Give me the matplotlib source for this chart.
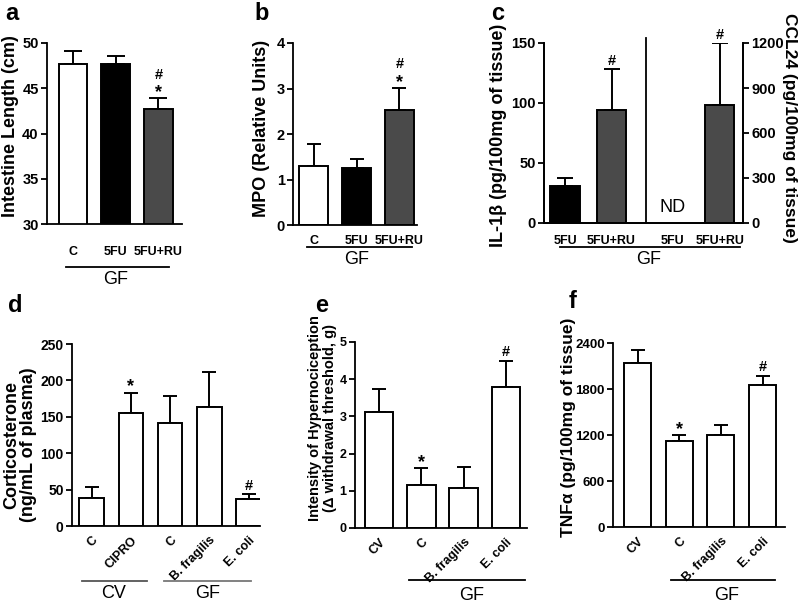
# -*- coding: utf-8 -*-
"""
Six-panel bar figure (a-f): intestine length, MPO, IL-1b / CCL24,
corticosterone, hypernociception and TNFa in GF / CV mice.
"""
import matplotlib
matplotlib.use("Agg")
import matplotlib.pyplot as plt
import matplotlib.transforms as mtransforms

plt.rcParams['font.family'] = ['Liberation Sans', 'DejaVu Sans']
plt.rcParams['font.weight'] = 'bold'
plt.rcParams['axes.linewidth'] = 1.3

W, H = 800, 602

# ---- data ----
a_labels = ['C', '5FU', '5FU+RU']
a_mean = [47.7, 47.7, 42.7]
a_err = [1.4, 0.9, 1.2]

b_labels = ['C', '5FU', '5FU+RU']
b_mean = [1.29, 1.25, 2.53]
b_err = [0.49, 0.20, 0.48]

c_labels = ['5FU', '5FU+RU', '5FU', '5FU+RU']
il1b_mean = [31, 94]
il1b_err = [6.5, 34]
ccl24_mean = [785]
ccl24_err = [415]

d_labels = ['C', 'CIPRO', 'C', 'B. fragilis', 'E. coli']
d_mean = [38, 155, 141, 164, 37]
d_err = [15, 28, 37, 48, 7]

e_labels = ['CV', 'C', 'B. fragilis', 'E. coli']
e_mean = [3.13, 1.15, 1.08, 3.78]
e_err = [0.62, 0.45, 0.55, 0.72]

f_labels = ['CV', 'C', 'B. fragilis', 'E. coli']
f_mean = [2135, 1126, 1204, 1848]
f_err = [174, 70, 126, 126]

GRAY = '#4a4a4a'

fig = plt.figure(figsize=(W / 100, H / 100), dpi=100)


def px_axes(x0, y0, x1, y1):
    return fig.add_axes([x0 / W, 1 - y1 / H, (x1 - x0) / W, (y1 - y0) / H])


def fy(y):
    return 1 - y / H


def style(ax, right=False, tsize=10.5):
    ax.spines['top'].set_visible(False)
    if not right:
        ax.spines['right'].set_visible(False)
    ax.tick_params(axis='y', direction='out', length=4, width=1.3,
                   labelsize=tsize, pad=2)
    ax.tick_params(axis='x', length=0)


def bars(ax, x, mean, err, colors, width, cap=6):
    ax.bar(x, mean, width=width, color=colors, edgecolor='black',
           linewidth=1.4, zorder=2)
    ax.errorbar(x, mean, yerr=[[0] * len(err), err], fmt='none',
                ecolor='black', elinewidth=1.4, capsize=cap, capthick=1.4,
                zorder=1)


def sig(ax, x, top, syms):
    off = 1
    for s in syms:
        size = 13 if s == '*' else 10.5
        dy = -3 if s == '*' else 0
        ax.annotate(s, (x, top), xytext=(0, off + dy), textcoords='offset points',
                    ha='center', va='bottom', fontsize=size, fontweight='bold')
        off += 11


def ylab(ax, text, box, xr, yc, size=13, ls=1.0):
    x0, y0, x1, y1 = box
    ax.set_ylabel(text, fontsize=size, fontweight='bold', linespacing=ls)
    ax.yaxis.set_label_coords((xr - x0) / (x1 - x0), (y1 - yc) / (y1 - y0))


def group(ax, x0, x1, ypx, text, ytext, color='black', xt=None):
    tr = mtransforms.blended_transform_factory(ax.transData, fig.transFigure)
    ax.plot([x0, x1], [fy(ypx), fy(ypx)], color=color, lw=1.3,
            transform=tr, clip_on=False)
    if xt is None:
        xt = (x0 + x1) / 2
    ax.text(xt, fy(ytext), text, transform=tr, ha='center', va='center',
            fontsize=13, fontweight='normal')


# ---------------- panel a ----------------
box = (47, 43, 182, 224)
ax = px_axes(*box)
xa = [0, 1, 2]
bars(ax, xa, a_mean, a_err, ['white', 'black', GRAY], 0.66, cap=6.5)
ax.set_ylim(30, 50)
ax.set_yticks([30, 35, 40, 45, 50])
ax.set_xlim(-0.6, 2.55)
ax.set_xticks(xa)
ax.set_xticklabels(a_labels, fontsize=9, fontweight='bold')
style(ax)
ax.tick_params(axis='x', pad=16)
ylab(ax, 'Intestine Length (cm)', box, 19, 126)
sig(ax, 2, a_mean[2] + a_err[2], ['*', '#'])
group(ax, -0.15, 2.25, 267, 'GF', 280, xt=1)

# ---------------- panel b ----------------
box = (293, 43, 417, 225)
ax = px_axes(*box)
bars(ax, xa, b_mean, b_err, ['white', 'black', GRAY], 0.67, cap=5)
ax.set_ylim(0, 4)
ax.set_yticks([0, 1, 2, 3, 4])
ax.set_xlim(-0.48, 2.41)
ax.set_xticks(xa)
ax.set_xticklabels(b_labels, fontsize=9, fontweight='bold')
style(ax)
ax.tick_params(axis='x', pad=7)
ylab(ax, 'MPO (Relative Units)', box, 270, 128)
sig(ax, 2, b_mean[2] + b_err[2], ['*', '#'])
group(ax, -0.15, 2.3, 247, 'GF', 260, xt=1)

# ---------------- panel c ----------------
box = (544, 43, 743, 223)
ax = px_axes(*box)
xc = [0, 1, 2.3, 3.32]
bars(ax, xc[:2], il1b_mean, il1b_err, ['black', GRAY], 0.63)
ax.set_ylim(0, 150)
ax.set_yticks([0, 50, 100, 150])
ax.set_xlim(-0.45, 3.82)
ax.set_xticks(xc)
ax.set_xticklabels(c_labels, fontsize=9, fontweight='bold')
style(ax, right=True)
ax.tick_params(axis='x', pad=9)
ax.axvline(1.73, ymin=0, ymax=1.03, color='black', lw=1.3, clip_on=False)
ax.text(2.3, 6, 'ND', ha='center', va='bottom', fontsize=13,
        fontweight='normal')
sig(ax, 1, il1b_mean[1] + il1b_err[1], ['#'])
ylab(ax, u'IL-1\u03b2 (pg/100mg of tissue)', box, 507, 135)
ax2 = ax.twinx()
bars(ax2, xc[3:], ccl24_mean, ccl24_err, [GRAY], 0.63)
ax2.set_ylim(0, 1200)
ax2.set_yticks([0, 300, 600, 900, 1200])
ax2.spines['top'].set_visible(False)
ax2.tick_params(axis='y', direction='out', length=4, width=1.3,
                labelsize=10.5, pad=2)
sig(ax2, xc[3], ccl24_mean[0] + ccl24_err[0], ['#'])
ax2.set_ylabel('CCL24 (pg/100mg of tissue)', fontsize=12.5, fontweight='bold',
               rotation=270, va='bottom')
ax2.yaxis.set_label_coords((782 - 544) / 199, (223 - 128) / 180)
group(ax, -0.1, 3.75, 247, 'GF', 259, xt=1.8)

# ---------------- panel d ----------------
box = (72, 344, 260, 526)
ax = px_axes(*box)
xd = [0, 1, 2, 3, 4]
bars(ax, xd, d_mean, d_err, 'white', 0.63, cap=5)
ax.set_ylim(0, 250)
ax.set_yticks([0, 50, 100, 150, 200, 250])
ax.set_xlim(-0.5, 4.29)
ax.set_xticks(xd)
ax.set_xticklabels(d_labels, fontsize=9, fontweight='bold', rotation=45,
                   ha='right', rotation_mode='anchor')
style(ax, tsize=10)
ax.tick_params(axis='x', pad=6)
ylab(ax, 'Corticosterone\n(ng/mL of plasma)', box, 37, 445)
sig(ax, 1, d_mean[1] + d_err[1], ['*'])
sig(ax, 4, d_mean[4] + d_err[4], ['#'])
group(ax, -0.25, 1.4, 581, 'CV', 593, color='#555555', xt=0.55)
group(ax, 1.85, 4.05, 581, 'GF', 593, color='#777777', xt=2.95)

# ---------------- panel e ----------------
box = (355, 342, 527, 528)
ax = px_axes(*box)
xe = [0, 1, 2, 3]
bars(ax, xe, e_mean, e_err, 'white', 0.67, cap=5)
ax.set_ylim(0, 5)
ax.set_yticks([0, 1, 2, 3, 4, 5])
ax.set_xlim(-0.57, 3.5)
ax.set_xticks(xe)
ax.set_xticklabels(e_labels, fontsize=9, fontweight='bold', rotation=45,
                   ha='right', rotation_mode='anchor')
style(ax, tsize=9)
ax.tick_params(axis='x', pad=6)
ylab(ax, 'Intensity of Hypernociception\n(\u0394 withdrawal threshold, g)',
     box, 337, 418, size=10.5, ls=1.1)
sig(ax, 1, e_mean[1] + e_err[1], ['*'])
sig(ax, 3, e_mean[3] + e_err[3], ['#'])
group(ax, 0.7, 3.45, 580, 'GF', 595, xt=2.2)

# ---------------- panel f ----------------
box = (613, 343, 785, 527)
ax = px_axes(*box)
bars(ax, xe, f_mean, f_err, 'white', 0.65, cap=5)
ax.set_ylim(0, 2400)
ax.set_yticks([0, 600, 1200, 1800, 2400])
ax.set_xlim(-0.59, 3.54)
ax.set_xticks(xe)
ax.set_xticklabels(f_labels, fontsize=9, fontweight='bold', rotation=45,
                   ha='right', rotation_mode='anchor')
style(ax, tsize=9.5)
ax.tick_params(axis='x', pad=6)
ylab(ax, u'TNF\u03b1 (pg/100mg of tissue)', box, 576, 427, size=12.5)
sig(ax, 1, f_mean[1] + f_err[1], ['*'])
sig(ax, 3, f_mean[3] + f_err[3], ['#'])
group(ax, 0.8, 3.3, 580, 'GF', 595, xt=2.15)

# panel letters
for s, x, y in [('a', 12, 14), ('b', 262, 13), ('c', 498, 13),
                ('d', 15, 306), ('e', 322, 305), ('f', 573, 301)]:
    fig.text(x / W, fy(y), s, ha='center', va='center', fontsize=17,
             fontweight='bold')

fig.savefig('out.png', dpi=100)
